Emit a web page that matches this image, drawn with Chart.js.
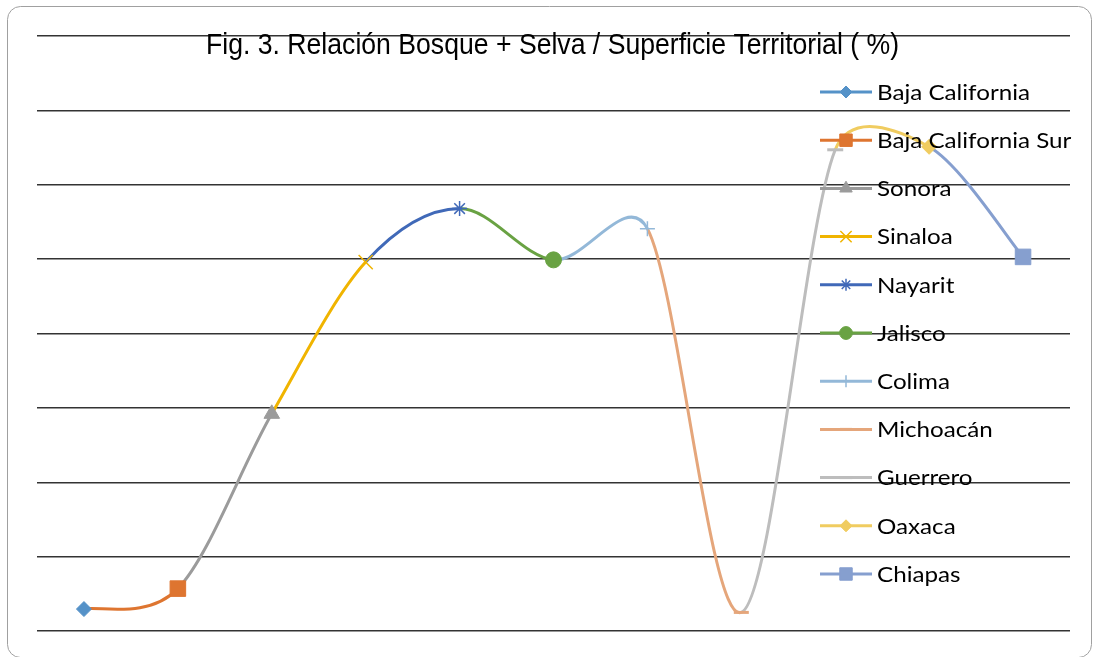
<!DOCTYPE html>
<html>
<head>
<meta charset="utf-8">
<script src="https://cdn.jsdelivr.net/npm/chart.js@4.4.0/dist/chart.umd.min.js"></script>
<style>
  html, body { margin: 0; padding: 0; background: #ffffff; }
  canvas { display: block; }
</style>
</head>
<body>
<canvas id="grafica" width="1093" height="657"></canvas>
<script>
// Datos: relación bosque + selva respecto a la superficie territorial (%)
const estados = ['Baja California', 'Baja California Sur', 'Sonora', 'Sinaloa', 'Nayarit', 'Jalisco',
                 'Colima', 'Michoacán', 'Guerrero', 'Oaxaca', 'Chiapas'];
const porcentaje = [2.95, 5.7, 29.2, 49.6, 56.8, 49.9, 54.1, 2.5, 64.7, 65.1, 50.3];
const ejeY = [0, 10, 20, 30, 40, 50, 60, 70, 80];
const titulo = 'Fig. 3. Relación Bosque + Selva / Superficie Territorial ( %)';

// Estilo de cada estado (color y marcador)
const colores = ['#5592C8', '#DE7530', '#9B9B9B', '#F0B400', '#4069B8', '#69A243',
                 '#93B8D8', '#E5A67B', '#BDBDBD', '#F0CC60', '#869FCF'];
const marcadores = ['rectRot', 'rect', 'triangle', 'crossRot', 'star', 'circle',
                    'cross', 'line', 'line', 'rectRot', 'rect'];
const radios = [7.5, 11, 9, 10, 7.5, 8, 7.5, 7.5, 8, 7.5, 11];
const grosores = [1, 1, 1, 1.5, 1.5, 1, 1.5, 3, 3, 1, 1];

// Suavizado tipo Catmull-Rom: tangente (P[i+1] - P[i-1]) / 6,
// limitando cada asa a una fracción del tramo contiguo
const suavizado = {
  id: 'suavizado',
  beforeDatasetsDraw(chart) {
    const meta = chart.getDatasetMeta(0);
    meta.dataset.updateControlPoints(chart.chartArea, 'x');
    const pts = meta.data;
    const n = pts.length;
    const limite = 0.45;
    for (let i = 0; i < n; i++) {
      const p = pts[i];
      const a = pts[Math.max(i - 1, 0)];
      const b = pts[Math.min(i + 1, n - 1)];
      const dx = (b.x - a.x) / 6, dy = (b.y - a.y) / 6;
      const largo = Math.hypot(dx, dy) || 1;
      const tramoPrev = Math.hypot(p.x - a.x, p.y - a.y);
      const tramoSig = Math.hypot(b.x - p.x, b.y - p.y);
      const s1 = Math.min(1, limite * tramoPrev / largo);
      const s2 = Math.min(1, limite * tramoSig / largo);
      p.cp1x = p.x - dx * s1; p.cp1y = p.y - dy * s1;
      p.cp2x = p.x + dx * s2; p.cp2y = p.y + dy * s2;
    }
  }
};

// Título, leyenda y marco redondeado
const decoracion = {
  id: 'decoracion',
  afterDatasetsDraw(chart) {
    const ctx = chart.ctx;
    const x0 = 820, x1 = 872, xt = 877, y0 = 92, paso = 48.2;
    ctx.save();
    ctx.font = '21px Lato, "Open Sans", sans-serif';
    const ancho = ctx.measureText('Baja California').width;
    const esc = 153 / ancho;
    estados.forEach((nombre, i) => {
      const y = y0 + i * paso;
      ctx.strokeStyle = colores[i];
      ctx.fillStyle = colores[i];
      ctx.lineWidth = 3;
      ctx.lineCap = 'butt';
      ctx.beginPath();
      ctx.moveTo(x0, y);
      ctx.lineTo(x1, y);
      ctx.stroke();
      ctx.lineWidth = grosores[i];
      Chart.helpers.drawPoint(ctx, {
        pointStyle: marcadores[i],
        radius: radios[i] * 0.8,
        rotation: 0,
        borderWidth: grosores[i]
      }, (x0 + x1) / 2, y);
      ctx.save();
      ctx.translate(xt, y + 1);
      ctx.scale(esc, 1);
      ctx.fillStyle = '#000000';
      ctx.textBaseline = 'middle';
      ctx.textAlign = 'left';
      ctx.fillText(nombre, 0, 0);
      ctx.restore();
    });
    ctx.restore();
  },
  afterDraw(chart) {
    const ctx = chart.ctx;
    ctx.save();
    ctx.font = '29px "Liberation Sans Narrow", "Liberation Sans", Arial, sans-serif';
    const w = ctx.measureText(titulo).width;
    ctx.translate(552.5, 54);
    ctx.scale(693 / w, 1);
    ctx.fillStyle = '#000000';
    ctx.textAlign = 'center';
    ctx.textBaseline = 'alphabetic';
    ctx.fillText(titulo, 0, 0);
    ctx.restore();

    ctx.save();
    ctx.strokeStyle = '#a0a0a0';
    ctx.lineWidth = 1;
    ctx.beginPath();
    ctx.roundRect(7.5, 6.5, 1084, 651, 13);
    ctx.stroke();
    ctx.restore();
  }
};

new Chart(document.getElementById('grafica'), {
  type: 'line',
  data: {
    labels: estados,
    datasets: [{
      label: 'Relación Bosque + Selva / Superficie Territorial',
      data: porcentaje,
      borderWidth: 3,
      tension: 0.4,
      fill: false,
      pointStyle: marcadores,
      pointRadius: radios,
      pointHoverRadius: radios,
      pointBackgroundColor: colores,
      pointBorderColor: colores,
      pointBorderWidth: grosores,
      segment: {
        borderColor: c => colores[c.p1DataIndex]
      }
    }]
  },
  options: {
    responsive: false,
    animation: false,
    devicePixelRatio: 1,
    layout: { padding: { left: 37, top: 36, right: 23, bottom: 26 } },
    plugins: {
      legend: { display: false },
      title: { display: false },
      tooltip: { enabled: false }
    },
    scales: {
      x: {
        type: 'category',
        offset: true,
        display: false
      },
      y: {
        min: ejeY[0],
        max: ejeY[ejeY.length - 1],
        afterBuildTicks: s => { s.ticks = ejeY.map(v => ({ value: v })); },
        ticks: { display: false },
        border: { display: false },
        grid: { color: '#333333', lineWidth: 1.5, drawTicks: false }
      }
    }
  },
  plugins: [suavizado, decoracion]
});
</script>
</body>
</html>
